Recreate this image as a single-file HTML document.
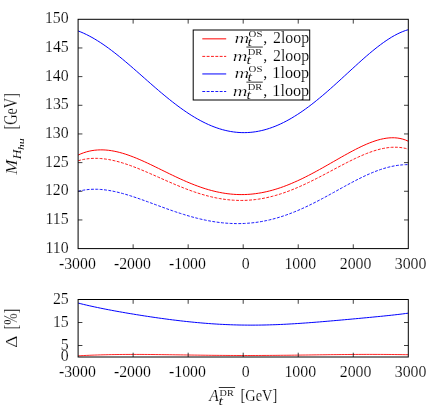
<!DOCTYPE html>
<html><head><meta charset="utf-8"><title>plot</title>
<style>
html,body{margin:0;padding:0;background:#fff;}
body{width:437px;height:408px;overflow:hidden;}
svg{display:block;will-change:transform;}
text{font-family:"Liberation Serif",serif;fill:#000;stroke:#fff;}
.f{fill:none;stroke:#000;stroke-width:1;}
.k{stroke:#000;stroke-width:0.75;fill:none;}
.o{stroke:#000;stroke-width:0.8;fill:none;}
.c{fill:none;stroke-width:1;stroke-linejoin:round;}
.d{stroke-dasharray:2.9 1.45;stroke-width:0.9;}
</style></head><body>
<svg width="437" height="408" viewBox="0 0 437 408">
<rect width="437" height="408" fill="#fff"/>

<defs><clipPath id="c1"><rect x="78.1" y="19.3" width="330.20" height="229.30"/></clipPath><clipPath id="c2"><rect x="78.1" y="299.5" width="330.20" height="57.50"/></clipPath></defs>
<g clip-path="url(#c1)">
<path class="c" stroke="#f00" d="M78.10,155.06 L80.87,153.83 L83.65,152.77 L86.42,151.89 L89.20,151.18 L91.97,150.62 L94.75,150.23 L97.52,149.98 L100.30,149.87 L103.07,149.89 L105.85,150.04 L108.62,150.31 L111.40,150.70 L114.17,151.19 L116.95,151.78 L119.72,152.46 L122.50,153.24 L125.27,154.09 L128.05,155.02 L130.82,156.02 L133.60,157.08 L136.37,158.19 L139.15,159.36 L141.92,160.57 L144.69,161.81 L147.47,163.10 L150.24,164.40 L153.02,165.73 L155.79,167.08 L158.57,168.44 L161.34,169.80 L164.12,171.17 L166.89,172.53 L169.67,173.88 L172.44,175.22 L175.22,176.54 L177.99,177.85 L180.77,179.12 L183.54,180.37 L186.32,181.58 L189.09,182.75 L191.87,183.89 L194.64,184.98 L197.42,186.03 L200.19,187.02 L202.97,187.97 L205.74,188.86 L208.52,189.69 L211.29,190.46 L214.06,191.17 L216.84,191.82 L219.61,192.40 L222.39,192.92 L225.16,193.37 L227.94,193.75 L230.71,194.06 L233.49,194.30 L236.26,194.47 L239.04,194.57 L241.81,194.59 L244.59,194.55 L247.36,194.43 L250.14,194.24 L252.91,193.98 L255.69,193.64 L258.46,193.24 L261.24,192.77 L264.01,192.23 L266.79,191.62 L269.56,190.95 L272.34,190.21 L275.11,189.40 L277.88,188.54 L280.66,187.61 L283.43,186.63 L286.21,185.59 L288.98,184.49 L291.76,183.34 L294.53,182.14 L297.31,180.90 L300.08,179.61 L302.86,178.27 L305.63,176.90 L308.41,175.49 L311.18,174.04 L313.96,172.57 L316.73,171.07 L319.51,169.54 L322.28,167.99 L325.06,166.43 L327.83,164.85 L330.61,163.26 L333.38,161.67 L336.16,160.08 L338.93,158.50 L341.71,156.92 L344.48,155.36 L347.25,153.82 L350.03,152.30 L352.80,150.82 L355.58,149.37 L358.35,147.97 L361.13,146.62 L363.90,145.33 L366.68,144.11 L369.45,142.97 L372.23,141.91 L375.00,140.94 L377.78,140.08 L380.55,139.34 L383.33,138.72 L386.10,138.24 L388.88,137.92 L391.65,137.76 L394.43,137.78 L397.20,138.00 L399.98,138.44 L402.75,139.11 L405.53,140.02 L408.30,141.22"/>
<path class="c d" stroke="#f00" d="M78.10,160.75 L80.87,160.00 L83.65,159.40 L86.42,158.94 L89.20,158.61 L91.97,158.41 L94.75,158.33 L97.52,158.36 L100.30,158.51 L103.07,158.76 L105.85,159.10 L108.62,159.54 L111.40,160.07 L114.17,160.68 L116.95,161.36 L119.72,162.11 L122.50,162.93 L125.27,163.81 L128.05,164.74 L130.82,165.73 L133.60,166.76 L136.37,167.83 L139.15,168.93 L141.92,170.07 L144.69,171.23 L147.47,172.42 L150.24,173.62 L153.02,174.83 L155.79,176.06 L158.57,177.29 L161.34,178.52 L164.12,179.74 L166.89,180.96 L169.67,182.17 L172.44,183.37 L175.22,184.54 L177.99,185.70 L180.77,186.83 L183.54,187.93 L186.32,189.01 L189.09,190.05 L191.87,191.05 L194.64,192.01 L197.42,192.94 L200.19,193.81 L202.97,194.65 L205.74,195.43 L208.52,196.16 L211.29,196.84 L214.06,197.47 L216.84,198.04 L219.61,198.55 L222.39,199.00 L225.16,199.40 L227.94,199.73 L230.71,200.00 L233.49,200.21 L236.26,200.35 L239.04,200.43 L241.81,200.44 L244.59,200.39 L247.36,200.27 L250.14,200.09 L252.91,199.84 L255.69,199.53 L258.46,199.15 L261.24,198.71 L264.01,198.20 L266.79,197.63 L269.56,197.00 L272.34,196.31 L275.11,195.56 L277.88,194.76 L280.66,193.89 L283.43,192.97 L286.21,192.00 L288.98,190.98 L291.76,189.90 L294.53,188.78 L297.31,187.62 L300.08,186.41 L302.86,185.16 L305.63,183.88 L308.41,182.56 L311.18,181.21 L313.96,179.83 L316.73,178.43 L319.51,177.00 L322.28,175.56 L325.06,174.10 L327.83,172.63 L330.61,171.16 L333.38,169.68 L336.16,168.20 L338.93,166.74 L341.71,165.28 L344.48,163.83 L347.25,162.41 L350.03,161.02 L352.80,159.65 L355.58,158.32 L358.35,157.04 L361.13,155.80 L363.90,154.61 L366.68,153.49 L369.45,152.44 L372.23,151.46 L375.00,150.56 L377.78,149.75 L380.55,149.03 L383.33,148.43 L386.10,147.93 L388.88,147.56 L391.65,147.31 L394.43,147.21 L397.20,147.26 L399.98,147.46 L402.75,147.84 L405.53,148.40 L408.30,149.15"/>
<path class="c" stroke="#00f" d="M78.10,30.90 L80.87,32.01 L83.65,33.22 L86.42,34.53 L89.20,35.94 L91.97,37.44 L94.75,39.04 L97.52,40.72 L100.30,42.49 L103.07,44.34 L105.85,46.27 L108.62,48.26 L111.40,50.33 L114.17,52.45 L116.95,54.64 L119.72,56.87 L122.50,59.15 L125.27,61.47 L128.05,63.82 L130.82,66.20 L133.60,68.61 L136.37,71.04 L139.15,73.48 L141.92,75.92 L144.69,78.37 L147.47,80.82 L150.24,83.25 L153.02,85.68 L155.79,88.08 L158.57,90.47 L161.34,92.82 L164.12,95.14 L166.89,97.42 L169.67,99.67 L172.44,101.86 L175.22,104.01 L177.99,106.10 L180.77,108.14 L183.54,110.11 L186.32,112.02 L189.09,113.86 L191.87,115.63 L194.64,117.32 L197.42,118.94 L200.19,120.48 L202.97,121.93 L205.74,123.30 L208.52,124.58 L211.29,125.78 L214.06,126.88 L216.84,127.89 L219.61,128.81 L222.39,129.63 L225.16,130.35 L227.94,130.98 L230.71,131.51 L233.49,131.93 L236.26,132.26 L239.04,132.49 L241.81,132.61 L244.59,132.63 L247.36,132.56 L250.14,132.38 L252.91,132.10 L255.69,131.72 L258.46,131.24 L261.24,130.65 L264.01,129.97 L266.79,129.20 L269.56,128.32 L272.34,127.35 L275.11,126.29 L277.88,125.13 L280.66,123.88 L283.43,122.54 L286.21,121.12 L288.98,119.61 L291.76,118.02 L294.53,116.34 L297.31,114.59 L300.08,112.76 L302.86,110.86 L305.63,108.89 L308.41,106.85 L311.18,104.75 L313.96,102.58 L316.73,100.37 L319.51,98.09 L322.28,95.77 L325.06,93.41 L327.83,91.00 L330.61,88.56 L333.38,86.09 L336.16,83.59 L338.93,81.07 L341.71,78.53 L344.48,75.98 L347.25,73.43 L350.03,70.87 L352.80,68.33 L355.58,65.79 L358.35,63.27 L361.13,60.78 L363.90,58.32 L366.68,55.90 L369.45,53.53 L372.23,51.21 L375.00,48.95 L377.78,46.76 L380.55,44.65 L383.33,42.62 L386.10,40.69 L388.88,38.86 L391.65,37.14 L394.43,35.54 L397.20,34.07 L399.98,32.74 L402.75,31.55 L405.53,30.53 L408.30,29.67"/>
<path class="c d" stroke="#00f" d="M78.10,191.31 L80.87,190.66 L83.65,190.13 L86.42,189.73 L89.20,189.45 L91.97,189.29 L94.75,189.23 L97.52,189.28 L100.30,189.43 L103.07,189.66 L105.85,189.99 L108.62,190.40 L111.40,190.88 L114.17,191.43 L116.95,192.05 L119.72,192.73 L122.50,193.46 L125.27,194.24 L128.05,195.07 L130.82,195.94 L133.60,196.84 L136.37,197.77 L139.15,198.72 L141.92,199.70 L144.69,200.69 L147.47,201.70 L150.24,202.71 L153.02,203.74 L155.79,204.76 L158.57,205.78 L161.34,206.80 L164.12,207.81 L166.89,208.80 L169.67,209.79 L172.44,210.76 L175.22,211.70 L177.99,212.63 L180.77,213.53 L183.54,214.40 L186.32,215.25 L189.09,216.07 L191.87,216.85 L194.64,217.60 L197.42,218.31 L200.19,218.98 L202.97,219.61 L205.74,220.20 L208.52,220.75 L211.29,221.25 L214.06,221.71 L216.84,222.12 L219.61,222.49 L222.39,222.80 L225.16,223.07 L227.94,223.28 L230.71,223.44 L233.49,223.55 L236.26,223.60 L239.04,223.60 L241.81,223.55 L244.59,223.44 L247.36,223.27 L250.14,223.05 L252.91,222.77 L255.69,222.43 L258.46,222.04 L261.24,221.58 L264.01,221.08 L266.79,220.51 L269.56,219.89 L272.34,219.21 L275.11,218.48 L277.88,217.69 L280.66,216.85 L283.43,215.95 L286.21,215.00 L288.98,214.00 L291.76,212.95 L294.53,211.85 L297.31,210.71 L300.08,209.52 L302.86,208.28 L305.63,207.01 L308.41,205.69 L311.18,204.34 L313.96,202.96 L316.73,201.55 L319.51,200.10 L322.28,198.64 L325.06,197.15 L327.83,195.64 L330.61,194.12 L333.38,192.59 L336.16,191.06 L338.93,189.52 L341.71,187.98 L344.48,186.46 L347.25,184.94 L350.03,183.44 L352.80,181.97 L355.58,180.52 L358.35,179.10 L361.13,177.72 L363.90,176.38 L366.68,175.09 L369.45,173.86 L372.23,172.68 L375.00,171.56 L377.78,170.51 L380.55,169.53 L383.33,168.63 L386.10,167.82 L388.88,167.08 L391.65,166.44 L394.43,165.89 L397.20,165.43 L399.98,165.08 L402.75,164.82 L405.53,164.66 L408.30,164.60"/>
</g>
<g clip-path="url(#c2)">
<path class="c" stroke="#f00" style="stroke-width:0.85" d="M78.10,355.84 L80.87,355.69 L83.65,355.54 L86.42,355.41 L89.20,355.29 L91.97,355.17 L94.75,355.07 L97.52,354.97 L100.30,354.89 L103.07,354.81 L105.85,354.74 L108.62,354.67 L111.40,354.62 L114.17,354.57 L116.95,354.53 L119.72,354.50 L122.50,354.47 L125.27,354.45 L128.05,354.44 L130.82,354.43 L133.60,354.42 L136.37,354.43 L139.15,354.43 L141.92,354.44 L144.69,354.46 L147.47,354.47 L150.24,354.50 L153.02,354.52 L155.79,354.55 L158.57,354.58 L161.34,354.61 L164.12,354.65 L166.89,354.68 L169.67,354.72 L172.44,354.76 L175.22,354.80 L177.99,354.84 L180.77,354.88 L183.54,354.92 L186.32,354.96 L189.09,355.01 L191.87,355.05 L194.64,355.09 L197.42,355.12 L200.19,355.16 L202.97,355.20 L205.74,355.23 L208.52,355.27 L211.29,355.30 L214.06,355.33 L216.84,355.35 L219.61,355.38 L222.39,355.40 L225.16,355.42 L227.94,355.44 L230.71,355.46 L233.49,355.47 L236.26,355.48 L239.04,355.49 L241.81,355.50 L244.59,355.50 L247.36,355.50 L250.14,355.50 L252.91,355.49 L255.69,355.49 L258.46,355.48 L261.24,355.46 L264.01,355.45 L266.79,355.43 L269.56,355.41 L272.34,355.39 L275.11,355.37 L277.88,355.34 L280.66,355.31 L283.43,355.28 L286.21,355.25 L288.98,355.22 L291.76,355.19 L294.53,355.15 L297.31,355.12 L300.08,355.08 L302.86,355.04 L305.63,355.00 L308.41,354.97 L311.18,354.93 L313.96,354.89 L316.73,354.85 L319.51,354.81 L322.28,354.78 L325.06,354.74 L327.83,354.70 L330.61,354.67 L333.38,354.64 L336.16,354.61 L338.93,354.58 L341.71,354.55 L344.48,354.52 L347.25,354.50 L350.03,354.48 L352.80,354.46 L355.58,354.44 L358.35,354.43 L361.13,354.42 L363.90,354.41 L366.68,354.40 L369.45,354.40 L372.23,354.40 L375.00,354.41 L377.78,354.42 L380.55,354.43 L383.33,354.44 L386.10,354.46 L388.88,354.48 L391.65,354.50 L394.43,354.53 L397.20,354.56 L399.98,354.59 L402.75,354.63 L405.53,354.67 L408.30,354.71"/>
<path class="c" stroke="#00f" d="M78.10,303.04 L80.87,303.75 L83.65,304.43 L86.42,305.08 L89.20,305.72 L91.97,306.34 L94.75,306.95 L97.52,307.53 L100.30,308.11 L103.07,308.67 L105.85,309.22 L108.62,309.75 L111.40,310.28 L114.17,310.80 L116.95,311.30 L119.72,311.80 L122.50,312.29 L125.27,312.77 L128.05,313.25 L130.82,313.71 L133.60,314.17 L136.37,314.63 L139.15,315.07 L141.92,315.51 L144.69,315.94 L147.47,316.37 L150.24,316.79 L153.02,317.20 L155.79,317.60 L158.57,318.00 L161.34,318.38 L164.12,318.76 L166.89,319.14 L169.67,319.50 L172.44,319.85 L175.22,320.20 L177.99,320.53 L180.77,320.86 L183.54,321.18 L186.32,321.48 L189.09,321.78 L191.87,322.06 L194.64,322.33 L197.42,322.59 L200.19,322.84 L202.97,323.08 L205.74,323.31 L208.52,323.52 L211.29,323.72 L214.06,323.91 L216.84,324.08 L219.61,324.25 L222.39,324.39 L225.16,324.53 L227.94,324.65 L230.71,324.76 L233.49,324.85 L236.26,324.93 L239.04,325.00 L241.81,325.05 L244.59,325.09 L247.36,325.12 L250.14,325.13 L252.91,325.13 L255.69,325.12 L258.46,325.10 L261.24,325.06 L264.01,325.01 L266.79,324.94 L269.56,324.87 L272.34,324.78 L275.11,324.69 L277.88,324.58 L280.66,324.46 L283.43,324.33 L286.21,324.19 L288.98,324.04 L291.76,323.88 L294.53,323.72 L297.31,323.54 L300.08,323.36 L302.86,323.17 L305.63,322.98 L308.41,322.77 L311.18,322.56 L313.96,322.35 L316.73,322.13 L319.51,321.91 L322.28,321.68 L325.06,321.44 L327.83,321.21 L330.61,320.97 L333.38,320.73 L336.16,320.48 L338.93,320.24 L341.71,319.99 L344.48,319.74 L347.25,319.49 L350.03,319.24 L352.80,318.98 L355.58,318.73 L358.35,318.47 L361.13,318.21 L363.90,317.95 L366.68,317.69 L369.45,317.43 L372.23,317.16 L375.00,316.89 L377.78,316.62 L380.55,316.35 L383.33,316.07 L386.10,315.78 L388.88,315.49 L391.65,315.19 L394.43,314.88 L397.20,314.57 L399.98,314.24 L402.75,313.90 L405.53,313.54 L408.30,313.17"/>
</g>
<path class="k" d="M133.13,248.6 v-4.3 M133.13,19.3 v4.3 M133.13,357.0 v-4.3 M133.13,299.5 v4.3 M188.17,248.6 v-4.3 M188.17,19.3 v4.3 M188.17,357.0 v-4.3 M188.17,299.5 v4.3 M243.20,248.6 v-4.3 M243.20,19.3 v4.3 M243.20,357.0 v-4.3 M243.20,299.5 v4.3 M298.23,248.6 v-4.3 M298.23,19.3 v4.3 M298.23,357.0 v-4.3 M298.23,299.5 v4.3 M353.27,248.6 v-4.3 M353.27,19.3 v4.3 M353.27,357.0 v-4.3 M353.27,299.5 v4.3 M78.1,47.96 h4.3 M408.3,47.96 h-4.3 M78.1,76.62 h4.3 M408.3,76.62 h-4.3 M78.1,105.29 h4.3 M408.3,105.29 h-4.3 M78.1,133.95 h4.3 M408.3,133.95 h-4.3 M78.1,162.61 h4.3 M408.3,162.61 h-4.3 M78.1,191.28 h4.3 M408.3,191.28 h-4.3 M78.1,219.94 h4.3 M408.3,219.94 h-4.3 M78.1,345.50 h4.3 M408.3,345.50 h-4.3 M78.1,322.50 h4.3 M408.3,322.50 h-4.3"/>
<rect class="f" x="78.1" y="19.3" width="330.20" height="229.30"/>
<rect class="f" x="78.1" y="299.5" width="330.20" height="57.50"/>
<text transform="translate(44.89,23.40) scale(0.9900,1.0000)" font-size="16.0" stroke-width="0.160">150</text>
<text transform="translate(44.97,52.06) scale(0.9900,1.0000)" font-size="16.0" stroke-width="0.160">145</text>
<text transform="translate(44.89,80.72) scale(0.9900,1.0000)" font-size="16.0" stroke-width="0.160">140</text>
<text transform="translate(44.97,109.39) scale(0.9900,1.0000)" font-size="16.0" stroke-width="0.160">135</text>
<text transform="translate(44.89,138.05) scale(0.9900,1.0000)" font-size="16.0" stroke-width="0.160">130</text>
<text transform="translate(44.97,166.71) scale(0.9900,1.0000)" font-size="16.0" stroke-width="0.160">125</text>
<text transform="translate(44.89,195.38) scale(0.9900,1.0000)" font-size="16.0" stroke-width="0.160">120</text>
<text transform="translate(45.53,224.04) scale(0.9900,1.0000)" font-size="16.0" stroke-width="0.160">115</text>
<text transform="translate(45.45,252.70) scale(0.9900,1.0000)" font-size="16.0" stroke-width="0.160">110</text>
<text transform="translate(52.89,303.80) scale(0.9900,1.0000)" font-size="16.0" stroke-width="0.160">25</text>
<text transform="translate(52.89,326.80) scale(0.9900,1.0000)" font-size="16.0" stroke-width="0.160">15</text>
<text transform="translate(60.81,349.80) scale(0.9900,1.0000)" font-size="16.0" stroke-width="0.160">5</text>
<text transform="translate(60.73,361.30) scale(0.9900,1.0000)" font-size="16.0" stroke-width="0.160">0</text>
<text transform="translate(58.91,269.10) scale(0.9900,1.0000)" font-size="16.0" stroke-width="0.160">-3000</text>
<text transform="translate(113.94,269.10) scale(0.9900,1.0000)" font-size="16.0" stroke-width="0.160">-2000</text>
<text transform="translate(168.97,269.10) scale(0.9900,1.0000)" font-size="16.0" stroke-width="0.160">-1000</text>
<text transform="translate(241.64,269.10) scale(0.9900,1.0000)" font-size="16.0" stroke-width="0.160">0</text>
<text transform="translate(284.40,269.10) scale(0.9900,1.0000)" font-size="16.0" stroke-width="0.160">1000</text>
<text transform="translate(339.75,269.10) scale(0.9900,1.0000)" font-size="16.0" stroke-width="0.160">2000</text>
<text transform="translate(394.78,269.10) scale(0.9900,1.0000)" font-size="16.0" stroke-width="0.160">3000</text>
<text transform="translate(58.91,377.10) scale(0.9900,1.0000)" font-size="16.0" stroke-width="0.160">-3000</text>
<text transform="translate(113.94,377.10) scale(0.9900,1.0000)" font-size="16.0" stroke-width="0.160">-2000</text>
<text transform="translate(168.97,377.10) scale(0.9900,1.0000)" font-size="16.0" stroke-width="0.160">-1000</text>
<text transform="translate(241.64,377.10) scale(0.9900,1.0000)" font-size="16.0" stroke-width="0.160">0</text>
<text transform="translate(284.40,377.10) scale(0.9900,1.0000)" font-size="16.0" stroke-width="0.160">1000</text>
<text transform="translate(339.75,377.10) scale(0.9900,1.0000)" font-size="16.0" stroke-width="0.160">2000</text>
<text transform="translate(394.78,377.10) scale(0.9900,1.0000)" font-size="16.0" stroke-width="0.160">3000</text>
<rect class="f" x="193.2" y="30.0" width="116.50" height="70.00" style="fill:#fff"/>
<path class="c" stroke="#f00" d="M202.3,38.85 H226.2"/>
<text transform="translate(234.48,43.00) scale(1.3922,1.0000)" font-size="14.7" font-style="italic" stroke-width="0.240">m</text>
<text transform="translate(247.38,46.20) scale(1.3626,1.0000)" font-size="11.8" font-style="italic" stroke-width="0.107">t</text>
<text transform="translate(248.62,37.00) scale(1.3181,1.0000)" font-size="8.2" stroke-width="0.053">OS</text>
<text x="263.34" y="43.00" font-size="16.0" stroke-width="0.160">,</text>
<text transform="translate(272.99,43.00) scale(0.9909,1.0000)" font-size="16.0" stroke-width="0.160">2loop</text>
<path class="c d" stroke="#f00" d="M202.3,56.40 H226.2"/>
<text transform="translate(232.68,60.55) scale(1.3922,1.0000)" font-size="14.7" font-style="italic" stroke-width="0.240">m</text>
<text transform="translate(246.38,63.85) scale(1.3626,1.0000)" font-size="11.8" font-style="italic" stroke-width="0.107">t</text>
<text transform="translate(247.74,54.95) scale(1.2780,1.0000)" font-size="8.2" stroke-width="0.053">DR</text>
<path class="o" d="M246.40,47.05 h16.4"/>
<text x="263.34" y="60.55" font-size="16.0" stroke-width="0.160">,</text>
<text transform="translate(272.99,60.55) scale(0.9909,1.0000)" font-size="16.0" stroke-width="0.160">2loop</text>
<path class="c" stroke="#00f" d="M202.3,73.95 H226.2"/>
<text transform="translate(234.48,78.10) scale(1.3922,1.0000)" font-size="14.7" font-style="italic" stroke-width="0.240">m</text>
<text transform="translate(247.38,81.30) scale(1.3626,1.0000)" font-size="11.8" font-style="italic" stroke-width="0.107">t</text>
<text transform="translate(248.62,72.10) scale(1.3181,1.0000)" font-size="8.2" stroke-width="0.053">OS</text>
<text x="263.34" y="78.10" font-size="16.0" stroke-width="0.160">,</text>
<text transform="translate(272.33,78.10) scale(1.0093,1.0000)" font-size="16.0" stroke-width="0.160">1loop</text>
<path class="c d" stroke="#00f" d="M202.3,91.50 H226.2"/>
<text transform="translate(232.68,95.65) scale(1.3922,1.0000)" font-size="14.7" font-style="italic" stroke-width="0.240">m</text>
<text transform="translate(246.38,98.95) scale(1.3626,1.0000)" font-size="11.8" font-style="italic" stroke-width="0.107">t</text>
<text transform="translate(247.74,90.05) scale(1.2780,1.0000)" font-size="8.2" stroke-width="0.053">DR</text>
<path class="o" d="M246.40,82.15 h16.4"/>
<text x="263.34" y="95.65" font-size="16.0" stroke-width="0.160">,</text>
<text transform="translate(272.33,95.65) scale(1.0093,1.0000)" font-size="16.0" stroke-width="0.160">1loop</text>
<g transform="translate(16.4,174.8) rotate(-90)"><text transform="translate(0.38,0.20) scale(1.1096,1.0800)" font-size="16.0" font-style="italic" stroke-width="0.160">M</text><text transform="translate(15.53,4.20) scale(1.2121,1.0800)" font-size="11.0" font-style="italic" stroke-width="0.053">H</text><text transform="translate(24.80,7.30) scale(1.3102,1.0000)" font-size="8.8" font-style="italic" stroke-width="0.000">h</text><text transform="translate(30.60,7.20) scale(1.6734,1.0000)" font-size="7.2" font-style="italic" stroke-width="0.000">u</text><text transform="translate(45.23,0.80) scale(0.8940,1.1800)" font-size="16.0" stroke-width="0.160">[GeV]</text></g>
<g transform="translate(16.4,347.6) rotate(-90)"><text transform="translate(-0.27,0.50) scale(1.1952,1.0700)" font-size="16.0" stroke-width="0.160">Δ</text><text transform="translate(18.38,0.80) scale(0.8519,1.2000)" font-size="16.0" stroke-width="0.160">[%]</text></g>
<text transform="translate(209.16,400.70) scale(0.9795,1.0400)" font-size="16.0" font-style="italic" stroke-width="0.160">A</text>
<text transform="translate(218.58,404.60) scale(1.3626,1.0000)" font-size="11.8" font-style="italic" stroke-width="0.107">t</text>
<text transform="translate(219.59,395.50) scale(1.2420,1.0000)" font-size="8.2" stroke-width="0.053">DR</text>
<path class="o" d="M218.8,387.5 H235.1"/>
<text transform="translate(240.52,400.90) scale(0.9018,1.0500)" font-size="16.0" stroke-width="0.160">[GeV]</text>
</svg></body></html>
